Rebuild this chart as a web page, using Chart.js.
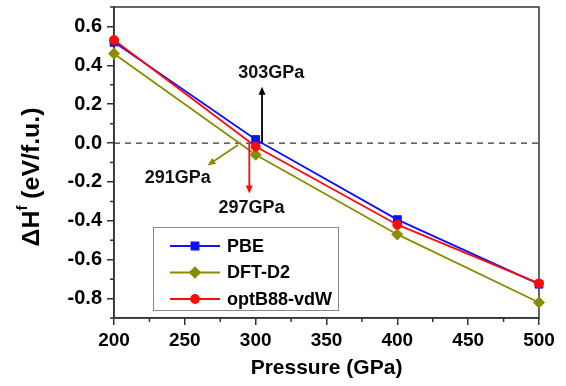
<!DOCTYPE html>
<html>
<head>
<meta charset="utf-8">
<script src="https://cdn.jsdelivr.net/npm/chart.js@4"></script>
<style>
  html, body { margin: 0; padding: 0; background: #fff; }
  #wrap { width: 566px; height: 386px; }
</style>
</head>
<body>
<div id="wrap"><canvas id="chart"></canvas></div>
<script>
// values
const pressures = [200, 300, 400, 500];
const pbe = [0.52, 0.018, -0.394, -0.726];
const dftD2 = [0.46, -0.06, -0.47, -0.82];
const optB88 = [0.53, -0.018, -0.42, -0.722];
const seriesNames = ['PBE', 'DFT-D2', 'optB88-vdW'];

const xTicks = [200, 250, 300, 350, 400, 450, 500];
const yTicks = [0.6, 0.4, 0.2, 0.0, -0.2, -0.4, -0.6, -0.8];

// crossing pressures marked with arrows
const arrowLabels = ['303GPa', '297GPa', '291GPa'];
const arrowFrom = [[304.5, 0], [295.5, 0], [287.5, -0.01]];
const arrowTo = [[304.5, 0.29], [295.5, -0.26], [266, -0.115]];
const labelAt = [[311, 0.36], [297, -0.335], [245, -0.18]];

const FONT = "'Liberation Sans', Arial, sans-serif";
const colors = ['#1010ff', '#8b8b00', '#ff0a0a'];
const arrowColors = ['#000', '#ff0a0a', '#8b8b00'];
const styles = ['rect', 'rectRot', 'circle'];
const radii = [5.5, 5.5, 4.5];

const toPts = arr => pressures.map((p, i) => ({x: p, y: arr[i]}));

const datasets = [pbe, dftD2, optB88].map((arr, i) => ({
  label: seriesNames[i],
  data: toPts(arr),
  borderColor: colors[i],
  backgroundColor: colors[i],
  pointBackgroundColor: colors[i],
  pointBorderColor: colors[i],
  pointStyle: styles[i],
  pointRadius: radii[i],
  borderWidth: 1.8,
  pointBorderWidth: 1,
  clip: false,
  order: 3 - i,
}));

const drawArrow = (ctx, x1, y1, x2, y2, color) => {
  const a = Math.atan2(y2 - y1, x2 - x1);
  const len = 8, half = 3.5;
  ctx.save();
  ctx.strokeStyle = color;
  ctx.fillStyle = color;
  ctx.lineWidth = 1.8;
  ctx.beginPath();
  ctx.moveTo(x1, y1);
  ctx.lineTo(x2 - Math.cos(a) * len * 0.8, y2 - Math.sin(a) * len * 0.8);
  ctx.stroke();
  ctx.beginPath();
  ctx.moveTo(x2, y2);
  ctx.lineTo(x2 - Math.cos(a) * len - Math.sin(a) * half, y2 - Math.sin(a) * len + Math.cos(a) * half);
  ctx.lineTo(x2 - Math.cos(a) * len + Math.sin(a) * half, y2 - Math.sin(a) * len - Math.cos(a) * half);
  ctx.closePath();
  ctx.fill();
  ctx.restore();
};

const decor = {
  id: 'decor',
  beforeDatasetsDraw(chart) {
    const {ctx, chartArea: ca, scales: {x, y}} = chart;
    ctx.save();
    // zero line
    ctx.strokeStyle = '#333';
    ctx.lineWidth = 1.3;
    ctx.setLineDash([6, 5]);
    ctx.beginPath();
    ctx.moveTo(ca.left, y.getPixelForValue(0));
    ctx.lineTo(ca.right, y.getPixelForValue(0));
    ctx.stroke();
    ctx.setLineDash([]);
    // frame
    ctx.strokeStyle = '#333';
    ctx.lineWidth = 1.5;
    ctx.strokeRect(ca.left, ca.top, ca.right - ca.left, ca.bottom - ca.top);
    // minor ticks
    ctx.beginPath();
    for (let i = 0; i < xTicks.length - 1; i++) {
      const px = x.getPixelForValue((xTicks[i] + xTicks[i + 1]) / 2);
      ctx.moveTo(px, ca.bottom);
      ctx.lineTo(px, ca.bottom + 4);
    }
    for (let i = 0; i < yTicks.length - 1; i++) {
      const py = y.getPixelForValue((yTicks[i] + yTicks[i + 1]) / 2);
      ctx.moveTo(ca.left, py);
      ctx.lineTo(ca.left - 4, py);
    }
    ctx.moveTo(ca.left, y.getPixelForValue(0.7));
    ctx.lineTo(ca.left - 4, y.getPixelForValue(0.7));
    ctx.moveTo(ca.left, y.getPixelForValue(-0.9));
    ctx.lineTo(ca.left - 4, y.getPixelForValue(-0.9));
    ctx.stroke();
    ctx.restore();
  },
  afterDatasetsDraw(chart) {
    const {ctx, scales: {x, y}} = chart;
    arrowLabels.forEach((lab, i) => {
      drawArrow(ctx,
        x.getPixelForValue(arrowFrom[i][0]), y.getPixelForValue(arrowFrom[i][1]),
        x.getPixelForValue(arrowTo[i][0]), y.getPixelForValue(arrowTo[i][1]),
        arrowColors[i]);
      ctx.save();
      ctx.font = `bold 18px ${FONT}`;
      ctx.fillStyle = '#111';
      ctx.textAlign = 'center';
      ctx.textBaseline = 'middle';
      ctx.fillText(lab, x.getPixelForValue(labelAt[i][0]), y.getPixelForValue(labelAt[i][1]));
      ctx.restore();
    });
  },
  afterDraw(chart) {
    const {ctx} = chart;
    ctx.save();
    // legend box
    const bx = 153, by = 227, rowH = 26.5;
    ctx.font = `bold 18px ${FONT}`;
    const tw = Math.max(...seriesNames.map(n => ctx.measureText(n).width));
    ctx.fillStyle = '#fff';
    ctx.fillRect(bx, by, 74 + tw + 6, 83);
    ctx.strokeStyle = '#888';
    ctx.lineWidth = 1;
    ctx.strokeRect(bx + 0.5, by + 0.5, 74 + tw + 6, 83);
    chart.data.datasets.forEach((ds, i) => {
      const cy = by + 19 + i * rowH;
      ctx.strokeStyle = ds.borderColor;
      ctx.lineWidth = 1.8;
      ctx.beginPath();
      ctx.moveTo(bx + 17, cy);
      ctx.lineTo(bx + 67, cy);
      ctx.stroke();
      ctx.fillStyle = ds.borderColor;
      Chart.helpers.drawPoint(ctx, {pointStyle: ds.pointStyle, radius: ds.pointRadius - 0.5, borderWidth: 1}, bx + 42, cy);
      ctx.fillStyle = '#000';
      ctx.textBaseline = 'middle';
      ctx.fillText(ds.label, bx + 74, cy + 1);
    });
    // y axis title with superscript
    ctx.translate(33, 177);
    ctx.rotate(-Math.PI / 2);
    ctx.scale(1.08, 1);
    const big = `bold 23px ${FONT}`, small = `bold 14px ${FONT}`;
    const parts = [['\u0394H', big, 0], ['f', small, -10], [' (eV/f.u.)', big, 0]];
    let total = 0;
    parts.forEach(p => { ctx.font = p[1]; total += ctx.measureText(p[0]).width; });
    let cx = -total / 2;
    ctx.fillStyle = '#000';
    ctx.textBaseline = 'middle';
    parts.forEach(p => {
      ctx.font = p[1];
      ctx.fillText(p[0], cx, p[2]);
      cx += ctx.measureText(p[0]).width;
    });
    ctx.restore();
  }
};

new Chart(document.getElementById('chart'), {
  type: 'line',
  data: {datasets},
  options: {
    responsive: true,
    maintainAspectRatio: false,
    animation: false,
    layout: {padding: {left: 0, right: 27, top: 7, bottom: 0}},
    plugins: {legend: {display: false}, tooltip: {enabled: false}},
    scales: {
      x: {
        type: 'linear',
        min: 200,
        max: 500,
        afterBuildTicks: s => { s.ticks = xTicks.map(v => ({value: v})); },
        afterFit: s => { s.height = 68; s.paddingLeft = 0; s.paddingRight = 0; },
        border: {display: true, color: '#333', width: 1.5},
        grid: {drawOnChartArea: false, tickLength: 7, color: '#333', lineWidth: 1.5},
        ticks: {
          color: '#000', padding: 4, maxRotation: 0,
          font: {family: FONT, size: 19, weight: 'bold'},
          callback: v => String(v)
        },
        title: {
          display: true, text: 'Pressure (GPa)', color: '#000',
          font: {family: FONT, size: 21, weight: 'bold'},
          padding: {top: 0, bottom: 5}
        }
      },
      y: {
        min: -0.9,
        max: 0.7,
        afterBuildTicks: s => { s.ticks = yTicks.map(v => ({value: v})); },
        afterFit: s => { s.width = 114; s.paddingTop = 0; s.paddingBottom = 0; },
        border: {display: true, color: '#333', width: 1.5},
        grid: {drawOnChartArea: false, tickLength: 7, color: '#333', lineWidth: 1.5},
        ticks: {
          color: '#000', padding: 5,
          font: {family: FONT, size: 20, weight: 'bold'},
          callback: v => v.toFixed(1)
        }
      }
    }
  },
  plugins: [decor]
});
</script>
</body>
</html>
